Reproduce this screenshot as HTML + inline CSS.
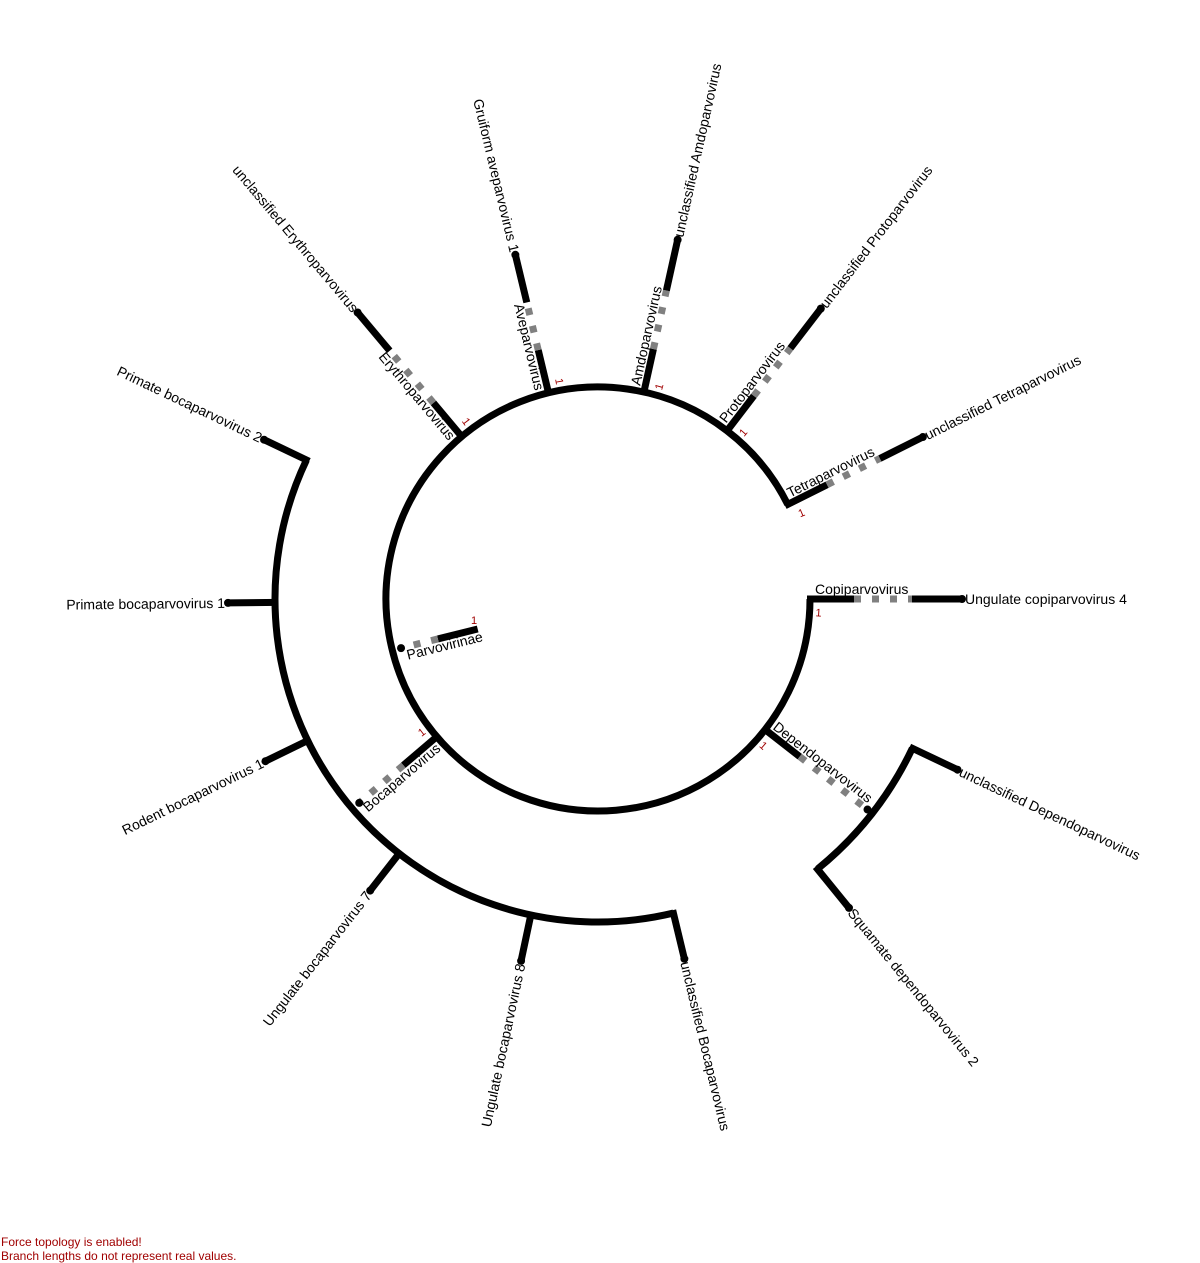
<!DOCTYPE html>
<html><head><meta charset="utf-8">
<style>
html,body{margin:0;padding:0;background:#fff;}
svg{display:block;font-family:"Liberation Sans",Arial,sans-serif;}
.note{position:absolute;left:1px;font:12px "Liberation Sans",Arial,sans-serif;color:#a00000;}
</style></head>
<body>
<svg id="tree" width="1200" height="1263" viewBox="0 0 1200 1263" xmlns="http://www.w3.org/2000/svg"></svg>
<div class="note" style="top:1235px">Force topology is enabled!</div>
<div class="note" style="top:1249px">Branch lengths do not represent real values.</div>
<script>
// ---- data ----
const genusNames = ["Copiparvovirus","Dependoparvovirus","Bocaparvovirus","Erythroparvovirus","Aveparvovirus","Amdoparvovirus","Protoparvovirus","Tetraparvovirus"];
const genusAngles = [0,38,139.5,-130,-103.5,-77.5,-52.5,-26.5];
const genusDashEnd = [314,342,314,324,305,316,316,315];
const genusLeafEnd = [364,null,null,374,354,368,366,363];
const genusLeafNames = ["Ungulate copiparvovirus 4",null,null,"unclassified Erythroparvovirus","Gruiform aveparvovirus 1","unclassified Amdoparvovirus","unclassified Protoparvovirus","unclassified Tetraparvovirus"];
const bocaLeafNames = ["Primate bocaparvovirus 2","Primate bocaparvovirus 1","Rodent bocaparvovirus 1","Ungulate bocaparvovirus 7","Ungulate bocaparvovirus 8","unclassified Bocaparvovirus"];
const bocaLeafAngles = [205.5,179.4,154,128,102,76.5];
const dependoLeafNames = ["unclassified Dependoparvovirus","Squamate dependoparvovirus 2"];
const dependoLeafAngles = [25.4,50.9];
const supportValues = ["1","1","1","1","1","1","1","1"];

// ---- geometry ----
const CX=598, CY=599, R_IN=212, R_SOLID=256, R_BOCA=323, R_DEP=348, LEAF_LEN=47;
const svg=document.getElementById('tree');
const NS='http://www.w3.org/2000/svg';
function P(a,r){const t=a*Math.PI/180;return [CX+r*Math.cos(t),CY+r*Math.sin(t)];}
function isLeft(a){return Math.cos(a*Math.PI/180)<0;}
function mk(tag,attrs){const e=document.createElementNS(NS,tag);for(const k in attrs)e.setAttribute(k,attrs[k]);svg.appendChild(e);return e;}
function seg(a,r0,r1,dashed,name){
  const p=P(a,r0),q=P(a,r1);
  const e=mk('line',{x1:p[0],y1:p[1],x2:q[0],y2:q[1],stroke:dashed?'#808080':'#000','stroke-width':7,'stroke-dasharray':dashed?'7 11':'none'});
  
  
  return e;
}
function arc(a0,a1,r,name){
  const p=P(a0,r),q=P(a1,r);let d=a1-a0;while(d<0)d+=360;
  const e=mk('path',{d:`M${p[0]},${p[1]} A${r},${r} 0 ${d>180?1:0} 1 ${q[0]},${q[1]}`,fill:'none',stroke:'#000','stroke-width':7});
  
  
}
function dot(a,r,name){
  const p=P(a,r);
  const e=mk('circle',{cx:p[0],cy:p[1],r:4,fill:'#000'});
  
  
}
function label(a,r,txt,mode,name,size,color){
  const p=P(a,r);const L=isLeft(a);const rot=L?a+180:a;
  let anchor,dy;
  if(mode==='leaf'){anchor=L?'end':'start';dy=5;}
  else if(mode==='genus'){anchor=L?'end':'start';dy=L?13:-5;}
  else if(mode==='root'){anchor='start';dy=13;}
  else {anchor='middle';dy=4;}
  const e=mk('text',{x:p[0],y:p[1],dy:dy,'text-anchor':anchor,transform:`rotate(${rot} ${p[0]} ${p[1]})`,'font-size':size||14,fill:color||'#000'});
  e.textContent=txt;
  
  
}

// inner arc
arc(0,-26.5,R_IN,'parvovirinae-arc');
// boca arc
arc(bocaLeafAngles[bocaLeafAngles.length-1],bocaLeafAngles[0],R_BOCA,'bocaparvovirus-arc');
// dependo arc
arc(dependoLeafAngles[0],dependoLeafAngles[1],R_DEP,'dependoparvovirus-arc');

// root branch
seg(166,124,165,false,'root-branch');
seg(166,165,200,true,'root-branch-dashed');
dot(166,203,'parvovirinae-node');
label(166,199,'Parvovirinae','root','parvovirinae-label');
(function(){const e=mk('text',{x:474,y:624,'text-anchor':'middle','font-size':11,fill:'#a00000'});e.textContent='1';

})();

// genus branches
genusNames.forEach((g,i)=>{
  const a=genusAngles[i];
  const slug=g.toLowerCase();
  seg(a,R_IN-3,R_SOLID,false,slug+'-branch');
  seg(a,R_SOLID,genusDashEnd[i],true,slug+'-branch-dashed');
  if(genusLeafEnd[i]!==null){
    seg(a,genusDashEnd[i],genusLeafEnd[i],false,slug+'-leaf-branch');
    dot(a,genusLeafEnd[i],slug+'-leaf-node');
    label(a,genusLeafEnd[i]+3,genusLeafNames[i],'leaf',slug+'-leaf-label');
  } else {
    dot(a,genusDashEnd[i],slug+'-node');
  }
  label(a,217,g,'genus',slug+'-label');
  label(a+3.5,221,supportValues[i],'support',slug+'-support',11,'#a00000');
});

// boca leaves
bocaLeafNames.forEach((n,i)=>{
  const a=bocaLeafAngles[i];
  const slug=n.toLowerCase().replace(/ /g,'-');
  seg(a,R_BOCA-3,R_BOCA+LEAF_LEN,false,slug+'-branch');
  dot(a,R_BOCA+LEAF_LEN,slug+'-node');
  label(a,R_BOCA+LEAF_LEN+3,n,'leaf',slug+'-label');
});
// dependo leaves
dependoLeafNames.forEach((n,i)=>{
  const a=dependoLeafAngles[i];
  const slug=n.toLowerCase().replace(/ /g,'-');
  seg(a,R_DEP-3,R_DEP+50,false,slug+'-branch');
  dot(a,R_DEP+50,slug+'-node');
  label(a,R_DEP+53,n,'leaf',slug+'-label');
});
</script>
</body></html>
